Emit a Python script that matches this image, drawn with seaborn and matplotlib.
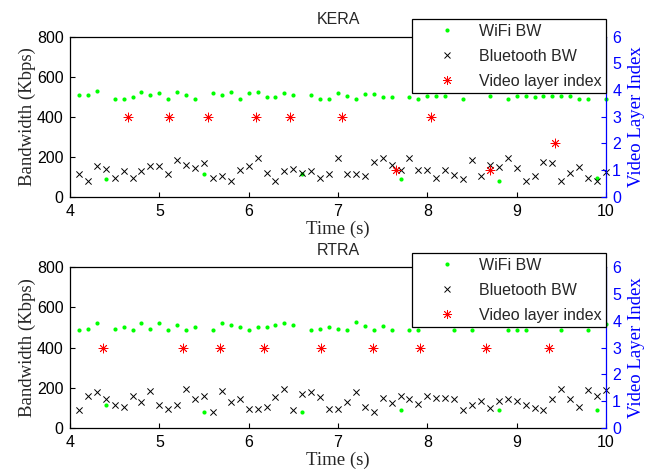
import matplotlib
matplotlib.use("Agg")
import matplotlib.pyplot as plt
import pandas as pd
import seaborn as sns
from matplotlib.lines import Line2D

# ---------------- data ----------------
time_s = [4.1, 4.2, 4.3, 4.4, 4.5, 4.6, 4.7, 4.8, 4.9, 5.0,
          5.1, 5.2, 5.3, 5.4, 5.5, 5.6, 5.7, 5.8, 5.9, 6.0,
          6.1, 6.2, 6.3, 6.4, 6.5, 6.6, 6.7, 6.8, 6.9, 7.0,
          7.1, 7.2, 7.3, 7.4, 7.5, 7.6, 7.7, 7.8, 7.9, 8.0,
          8.1, 8.2, 8.3, 8.4, 8.5, 8.6, 8.7, 8.8, 8.9, 9.0,
          9.1, 9.2, 9.3, 9.4, 9.5, 9.6, 9.7, 9.8, 9.9, 10.0]

kera_wifi = [507, 507, 526, 87, 490, 490, 500, 524, 507, 517,
             490, 524, 507, 490, 111, 517, 507, 524, 490, 517,
             524, 500, 500, 517, 507, 111, 507, 490, 490, 517,
             505, 490, 513, 513, 497, 497, 87, 497, 487, 503,
             503, 503, 538, 487, 538, 538, 503, 80, 487, 503,
             503, 497, 503, 503, 503, 503, 487, 487, 92, 487]
kera_bt = [113, 79, 153, 136, 94, 126, 94, 126, 151, 151,
           111, 185, 160, 143, 168, 94, 104, 79, 134, 151,
           193, 119, 79, 126, 136, 119, 126, 94, 111, 193,
           111, 111, 103, 175, 192, 158, 133, 192, 133, 133,
           93, 133, 110, 87, 183, 103, 158, 150, 192, 142,
           78, 103, 175, 167, 78, 118, 150, 93, 78, 125]
kera_layer_t = [4.65, 5.11, 5.55, 6.08, 6.46, 7.05, 7.65, 8.04, 8.70, 9.43]
kera_layer = [3, 3, 3, 3, 3, 3, 1, 3, 1, 2]

rtra_wifi = [488, 494, 521, 112, 494, 502, 488, 521, 494, 521,
             488, 511, 488, 502, 79, 488, 521, 511, 502, 488,
             502, 502, 511, 521, 511, 79, 488, 494, 502, 494,
             486, 526, 505, 486, 505, 486, 88, 489, 486, 520,
             520, 515, 489, 515, 489, 520, 515, 88, 486, 486,
             489, 515, 520, 515, 486, 520, 515, 489, 88, 515]
rtra_bt = [88, 160, 177, 144, 112, 104, 160, 127, 183, 112,
           96, 112, 192, 144, 160, 79, 183, 127, 144, 96,
           96, 104, 152, 192, 88, 169, 177, 152, 96, 96,
           130, 178, 105, 80, 150, 125, 158, 142, 117, 158,
           150, 150, 142, 88, 113, 133, 97, 133, 142, 133,
           113, 97, 88, 142, 195, 142, 105, 187, 158, 187]
rtra_layer_t = [4.37, 5.27, 5.68, 6.17, 6.81, 7.39, 7.92, 8.66, 9.36]
rtra_layer = [3, 3, 3, 3, 3, 3, 3, 3, 3]

x_ticks = [4, 5, 6, 7, 8, 9, 10]
bw_ticks = [0, 200, 400, 600, 800]
layer_ticks = [0, 1, 2, 3, 4, 5, 6]
legend_labels = ["WiFi BW", "Bluetooth BW", "Video layer index"]

# ---------------- style ----------------
sns.set_style("ticks")
plt.rcParams['font.family'] = ['Liberation Sans', 'DejaVu Sans']
SERIF = ['Liberation Serif', 'DejaVu Serif']
GREEN = '#00ff00'
BLUE = '#0000ff'
ASTER = (8, 2, 0)

fig = plt.figure(figsize=(6.45, 4.72), dpi=100)
ax_top = fig.add_axes([0.1085, 0.5833, 0.831, 0.339])
ax_bot = fig.add_axes([0.1085, 0.0932, 0.831, 0.341])


def panel(ax, title, wifi, bt, lt, lv, leg_off):
    df = pd.DataFrame({'t': time_s, 'wifi': wifi, 'bt': bt})
    sns.scatterplot(data=df, x='t', y='wifi', ax=ax, marker='o', s=9,
                    color=GREEN, linewidth=0, clip_on=False, legend=False, zorder=3)
    sns.scatterplot(data=df, x='t', y='bt', ax=ax, marker='x', s=20,
                    color='black', linewidth=0.7, clip_on=False, legend=False, zorder=3)
    ax.set_xlim(4, 10)
    ax.set_ylim(0, 800)
    ax.set_xticks(x_ticks)
    ax.set_yticks(bw_ticks)
    ax.set_xlabel('Time (s)', family=SERIF, fontsize=13.5, labelpad=1)
    ax.set_ylabel('Bandwidth (Kbps)', family=SERIF, fontsize=13.5, labelpad=1)
    ax.set_title(title, fontsize=11.5, pad=9)
    ax.tick_params(axis='both', direction='in', length=3.6, width=0.8,
                   labelsize=11.5, colors='black')
    ax.tick_params(axis='x', pad=5.3, top=False)
    ax.tick_params(axis='y', pad=4.5, right=False)
    for side in ['left', 'bottom', 'top']:
        ax.spines[side].set_color('black')
        ax.spines[side].set_linewidth(0.9)
    ax.spines['right'].set_visible(False)

    ax2 = ax.twinx()
    dl = pd.DataFrame({'t': lt, 'layer': lv})
    sns.scatterplot(data=dl, x='t', y='layer', ax=ax2, marker=ASTER, s=42,
                    color='red', linewidth=0.6, clip_on=False, legend=False, zorder=3)
    ax2.set_ylim(0, 6)
    ax2.set_yticks(layer_ticks)
    ax2.set_xlabel('')
    ax2.set_ylabel('Video Layer Index', family=SERIF, fontsize=13.5,
                   color=BLUE, labelpad=5)
    ax2.tick_params(axis='y', direction='in', length=3.6, width=0.8,
                    labelsize=11.5, colors=BLUE, pad=4.5)
    for side in ['left', 'bottom', 'top']:
        ax2.spines[side].set_visible(False)
    ax2.spines['right'].set_color(BLUE)
    ax2.spines['right'].set_linewidth(0.9)

    handles = [
        Line2D([], [], ls='', marker='o', ms=3.0, mec='none', mfc=GREEN),
        Line2D([], [], ls='', marker='x', ms=4.5, mew=0.7, color='black'),
        Line2D([], [], ls='', marker=ASTER, ms=6.5, mew=0.6, color='red'),
    ]
    leg = ax2.legend(handles, legend_labels, loc='upper right',
                     bbox_to_anchor=(1.0, 1.0 + leg_off), borderaxespad=0,
                     fontsize=11.5, frameon=True, fancybox=False, framealpha=1,
                     edgecolor='black', borderpad=0.3, labelspacing=0.62,
                     handlelength=3.7, handletextpad=0.15)
    leg.get_frame().set_linewidth(0.9)
    leg.set_zorder(10)


panel(ax_top, 'KERA', kera_wifi, kera_bt, kera_layer_t, kera_layer, 0.111)
panel(ax_bot, 'RTRA', rtra_wifi, rtra_bt, rtra_layer_t, rtra_layer, 0.087)

fig.savefig('out.png', dpi=100)
